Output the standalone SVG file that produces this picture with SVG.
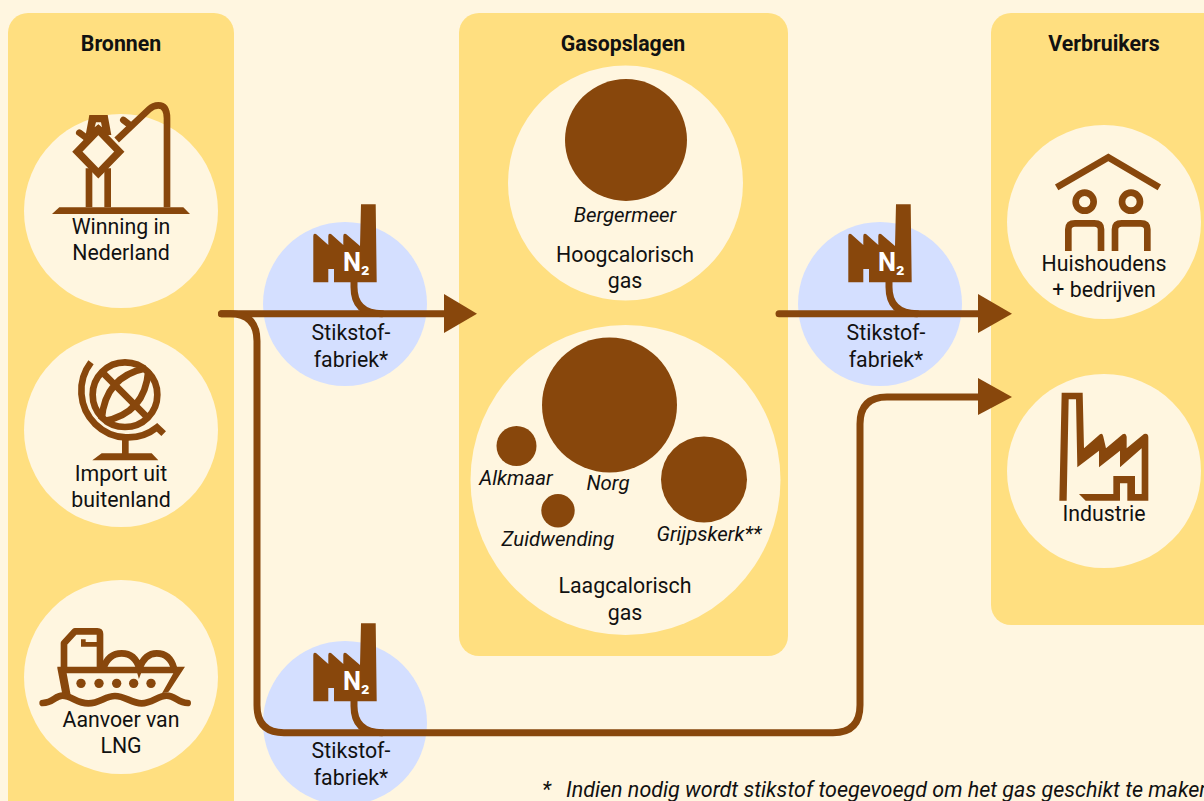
<svg xmlns="http://www.w3.org/2000/svg" width="1204" height="801" viewBox="0 0 1204 801">
<style>
text{font-family:Roboto,"Liberation Sans",sans-serif;font-size:21.3px;fill:#111;text-anchor:middle}
.h{font-weight:700}
.i{font-style:italic;font-size:20.4px}
.o{font-style:italic;font-size:21.5px;text-anchor:start}
.p{fill:#ffdf80}
.c{fill:#fff6e0}
.b{fill:#d4dfff}
.f{fill:#88470c}
.l{fill:none;stroke:#88470c;stroke-width:7;stroke-linecap:round}
.z{fill:none;stroke:#88470c;stroke-width:20}
.n{fill:#fff;font-weight:700;font-size:25.5px;text-anchor:start}
.s{font-size:23px}
</style>
<defs>
<g id="factory">
<path class="f" d="M313.3 236Q313.3 233 316 234L328.3 245V236Q328.3 233 331 234L343.3 245V236Q343.3 233 346 234L360 246L361 204.3H375.7L376.7 282.3H334V269H328.3V282.3H313.3Z"/>
</g>
</defs>
<rect width="1204" height="801" class="c"/>
<g id="panels">
<rect class="p" x="8" y="13" width="226" height="810" rx="20"/>
<rect class="p" x="459" y="13" width="329" height="643" rx="20"/>
<rect class="p" x="991" y="13" width="240" height="612" rx="20"/>
</g>
<g id="stikstof-circles">
<circle class="b" cx="345" cy="304" r="82"/>
<circle class="b" cx="880" cy="304" r="82"/>
<circle class="b" cx="345" cy="723" r="82"/>
</g>
<g id="connectors">
<path class="l" d="M221.500 313.700H446"/>
<path class="l" d="M779 313.700H980"/>
<path class="l" d="M221.500 313.700H230Q257 313.700 257 341V705Q257 732.700 284 732.700H833Q860 732.700 860 705V424Q860 397 887 397H980"/>
<path class="l" d="M354 282V287Q354 313.700 382 313.700"/>
<path class="l" d="M889 282V287Q889 313.700 917 313.700"/>
<path class="l" d="M354 701V706Q354 732.700 382 732.700"/>
<path class="f" d="M444 294L477 313.700L444 333Z"/>
<path class="f" d="M978 294L1012 313.700L978 333Z"/>
<path class="f" d="M978 378L1012 397L978 415Z"/>
</g>
<g id="bronnen"><text class="h" x="121" y="50.500">Bronnen</text></g>
<g id="gasopslagen"><text class="h" x="623" y="50.500">Gasopslagen</text></g>
<g id="verbruikers"><text class="h" x="1104" y="50.500">Verbruikers</text></g>
<g id="winning">
<circle class="c" cx="121" cy="211" r="97"/>
<g transform="translate(20 90) scale(.33333)">
<path class="f" d="M96 372L118 352H490L510 372Z"/>
<path class="z" d="M207 352V235M263 352V235"/>
<path class="f" d="M208 75H263L274 135H197Z"/>
<path class="c" d="M228 97H243L246 112L235 103L224 112Z"/>
<path class="z" d="M178 128L205 148M310 90L332 107" stroke-linecap="round"/>
<path class="z" stroke-width="22" d="M290 150L387 58Q400 46 415 46Q441 46 441 85V352"/>
<path d="M235 120L298 185L235 250L172 185Z" fill="#fff6e0" stroke="#88470c" stroke-width="22"/>
</g>
<text x="121" y="233.500">Winning in</text>
<text x="121" y="259.500">Nederland</text>
</g>
<g id="import">
<circle class="c" cx="121" cy="430" r="97"/>
<g transform="translate(20 340) scale(.33333)">
<circle class="z" cx="315" cy="164" r="97"/>
<path class="z" d="M245 95L385 235M378 85Q255 110 245 238M385 92Q375 220 252 243"/>
<path class="z" d="M213 67A140 140 0 0 0 411 262L431 281"/>
<path class="f" d="M306 300H326V340H395L415 361H217L245 340H306Z"/>
</g>
<text x="121" y="481">Import uit</text>
<text x="121" y="507">buitenland</text>
</g>
<g id="lng">
<circle class="c" cx="121" cy="677" r="97"/>
<g transform="translate(20 600) scale(.33333)">
<path class="z" d="M132 205V130L165 94H232Q240 94 240 102V205" stroke-linejoin="round"/>
<path d="M190 118V133H235" fill="none" stroke="#88470c" stroke-width="14"/>
<path class="z" d="M250 205Q265 160 305 160Q345 160 358 205Q375 160 410 160Q450 160 462 205" stroke-width="16"/>
<path class="f" d="M112 200H495L446 275L426 280L460 220H140L152 285L128 288L112 205Z"/>
<circle class="f" cx="183" cy="250" r="14"/><circle class="f" cx="237" cy="250" r="14"/><circle class="f" cx="290" cy="250" r="14"/><circle class="f" cx="341" cy="250" r="14"/><circle class="f" cx="393" cy="250" r="14"/>
<path class="z" stroke-linecap="round" d="M68 309C100 309 105 287 127 287C155 287 170 310 205 310C240 310 255 288 285 288C315 288 335 310 365 310C395 310 415 287 440 287C465 287 475 309 503 309"/>
</g>
<text x="121" y="727">Aanvoer van</text>
<text x="121" y="753">LNG</text>
</g>
<g id="n2-fabriek-1">
<use href="#factory"/>
<text class="n" x="343" y="271">N<tspan class="s">₂</tspan></text>
<text x="351" y="340">Stikstof-</text>
<text x="351" y="366.500">fabriek*</text>
</g>
<g id="n2-fabriek-2">
<use href="#factory" x="535"/>
<text class="n" x="878" y="271">N<tspan class="s">₂</tspan></text>
<text x="886" y="340">Stikstof-</text>
<text x="886" y="366.500">fabriek*</text>
</g>
<g id="n2-fabriek-3">
<use href="#factory" y="419"/>
<text class="n" x="343" y="690">N<tspan class="s">₂</tspan></text>
<text x="351" y="758">Stikstof-</text>
<text x="351" y="784.500">fabriek*</text>
</g>
<g id="hoogcalorisch">
<circle class="c" cx="625.5" cy="183" r="117.5"/>
<circle class="f" cx="626" cy="140" r="61"/>
<text class="i" x="625" y="222">Bergermeer</text>
<text x="625" y="262">Hoogcalorisch</text>
<text x="625" y="288">gas</text>
</g>
<g id="laagcalorisch">
<circle class="c" cx="625.5" cy="480" r="155"/>
<circle class="f" cx="609.5" cy="405" r="67.5"/>
<circle class="f" cx="516.5" cy="446" r="20"/>
<circle class="f" cx="558" cy="510.7" r="16.7"/>
<circle class="f" cx="704" cy="479.5" r="43"/>
<text class="i" x="516" y="485">Alkmaar</text>
<text class="i" x="608" y="490">Norg</text>
<text class="i" x="558" y="546">Zuidwending</text>
<text class="i" x="709" y="541">Grijpskerk**</text>
<text x="625" y="593">Laagcalorisch</text>
<text x="625" y="619.500">gas</text>
</g>
<g id="huishoudens">
<circle class="c" cx="1104" cy="222" r="97"/>
<g transform="translate(1020 140) scale(.33333)">
<path class="z" d="M110 142L265 52L418 142"/>
<circle class="z" cx="194" cy="185" r="27"/><circle class="z" cx="333" cy="185" r="27"/>
<path class="z" d="M145 333V268Q145 250 165 250H223Q243 250 243 268V333M285 333V268Q285 250 305 250H362Q382 250 382 268V333"/>
</g>
<text x="1104" y="271">Huishoudens</text>
<text x="1104" y="297">+ bedrijven</text>
</g>
<g id="industrie">
<circle class="c" cx="1104" cy="471" r="97"/>
<g transform="translate(1020 380) scale(.33333)">
<path class="f" d="M125 38H188L192 205L240 163Q248 158 250 170L258 205L308 163Q318 158 320 170V205L372 162Q385 158 385 172V362H322V310H300V362H197L177 342H280V288H345V342H365V205L300 262V212L237 262V212L172 262L168 58H146L140 362H118Z"/>
</g>
<text x="1104" y="520.500">Industrie</text>
</g>
<g id="voetnoot">
<text class="o" x="542" y="797">*</text>
<text class="o" x="566" y="797">Indien nodig wordt stikstof toegevoegd om het gas geschikt te maken</text>
</g>
</svg>
